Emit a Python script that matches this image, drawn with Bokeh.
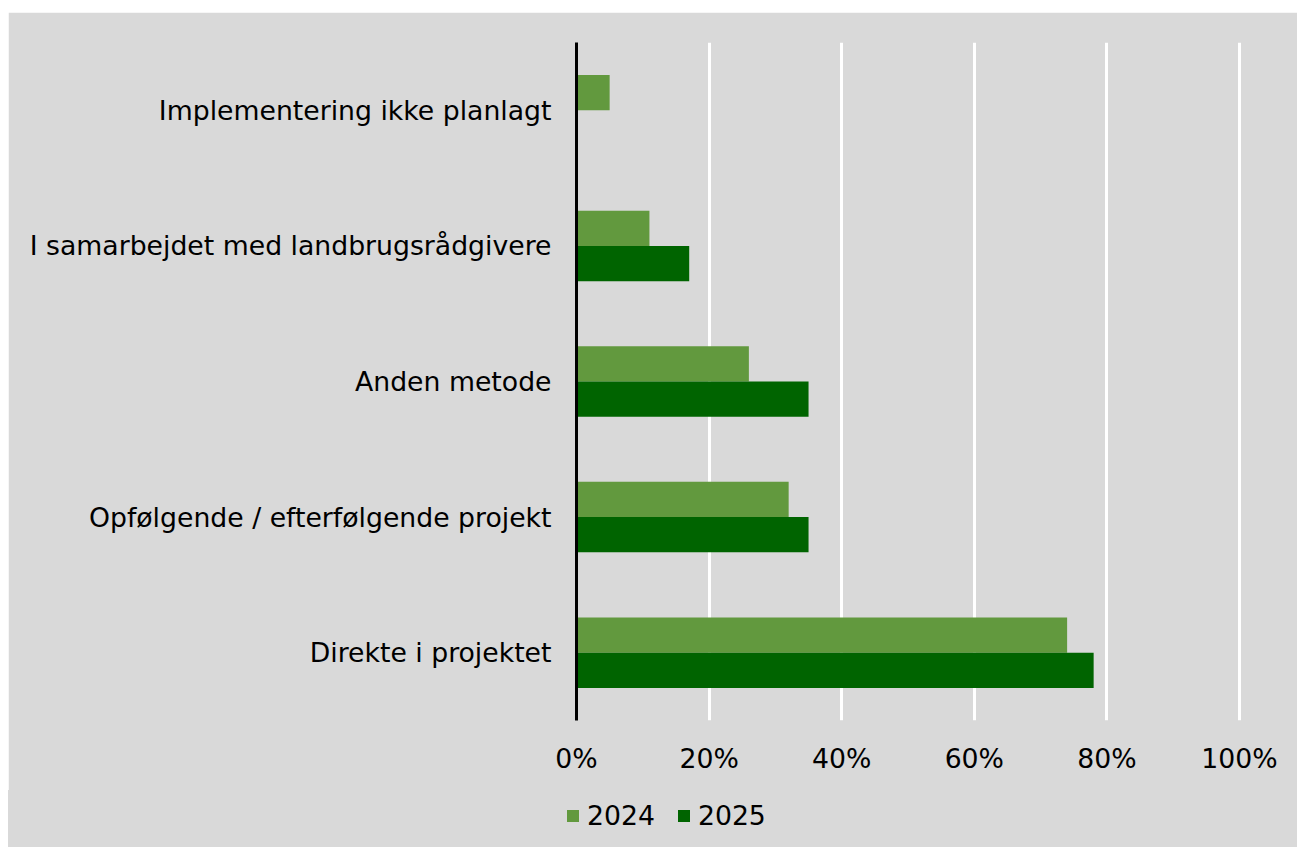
from bokeh.plotting import figure
from bokeh.layouts import column, row
from bokeh.models import FactorRange, Range1d, ColumnDataSource, Legend, LegendItem, NumeralTickFormatter, FixedTicker
from bokeh.transform import dodge
from bokeh.embed import file_html
from bokeh.resources import INLINE

categories = ["Direkte i projektet", "Opfølgende / efterfølgende projekt", "Anden metode",
              "I samarbejdet med landbrugsrådgivere", "Implementering ikke planlagt"]
v2024 = [0.74, 0.32, 0.26, 0.11, 0.05]
v2025 = [0.78, 0.35, 0.35, 0.17, 0.0]
series = ["2024", "2025"]
colors = ["#62993e", "#006400"]
ticks = [0, 0.2, 0.4, 0.6, 0.8, 1.0]

FONT = "DejaVu Sans"
BG = "#d9d9d9"
FS = "26.7px"

src = ColumnDataSource(dict(cat=categories, v2024=v2024, v2025=v2025))

W = 1289
main = figure(width=W, height=778, y_range=FactorRange(*categories), x_range=Range1d(0, 721 / 663),
              output_backend="svg", toolbar_location=None,
              background_fill_color=BG, border_fill_color=BG,
              outline_line_color=BG, outline_line_width=2,
              min_border_left=568, min_border_right=0, min_border_top=30, min_border_bottom=70)

bh = 0.26
main.hbar(y=dodge("cat", bh / 2, range=main.y_range), right="v2024", left=0, height=bh, source=src,
          fill_color=colors[0], line_color=None)
main.hbar(y=dodge("cat", -bh / 2, range=main.y_range), right="v2025", left=0, height=bh, source=src,
          fill_color=colors[1], line_color=None)

main.ygrid.grid_line_color = None
main.xgrid.grid_line_color = "white"
main.xgrid.grid_line_width = 3
main.xgrid.ticker = FixedTicker(ticks=ticks[1:])

main.xaxis.ticker = FixedTicker(ticks=ticks)
main.xaxis.formatter = NumeralTickFormatter(format="0%")
main.xaxis.axis_line_color = None
main.xaxis.major_tick_line_color = None
main.xaxis.minor_tick_line_color = None
main.xaxis.major_label_text_font = FONT
main.xaxis.major_label_text_font_size = FS
main.xaxis.major_label_text_color = "black"
main.xaxis.major_label_standoff = 16

main.yaxis.axis_line_color = "black"
main.yaxis.axis_line_width = 3
main.yaxis.major_tick_line_color = None
main.yaxis.minor_tick_line_color = None
main.yaxis.major_label_text_font = FONT
main.yaxis.major_label_text_font_size = FS
main.yaxis.major_label_text_color = "black"
main.yaxis.major_label_standoff = 19

# legend strip below the chart
leg = figure(width=W, height=57, x_range=Range1d(0, 1), y_range=Range1d(0, 1),
             output_backend="svg", toolbar_location=None,
             background_fill_color=BG, border_fill_color=BG,
             outline_line_color=BG, outline_line_width=2,
             min_border=0, x_axis_type=None, y_axis_type=None)
leg.xgrid.visible = False
leg.ygrid.visible = False
lr1 = leg.hbar(y=[-5], right=[-5], left=-6, height=0, fill_color=colors[0], line_color=None)
lr2 = leg.hbar(y=[-5], right=[-5], left=-6, height=0, fill_color=colors[1], line_color=None)
legend = Legend(items=[LegendItem(label=series[0], renderers=[lr1]),
                       LegendItem(label=series[1], renderers=[lr2])],
                orientation="horizontal", location=(557, 16),
                background_fill_alpha=0, border_line_color=None,
                label_text_font=FONT, label_text_font_size=FS, label_text_color="black",
                glyph_width=15, glyph_height=15, spacing=21, label_standoff=7,
                margin=0, padding=0)
leg.add_layout(legend)

p = column(main, row(leg, spacing=0), spacing=0)
p.margin = (12, 0, 0, 8)

open("out.html", "w").write(file_html(p, INLINE))
